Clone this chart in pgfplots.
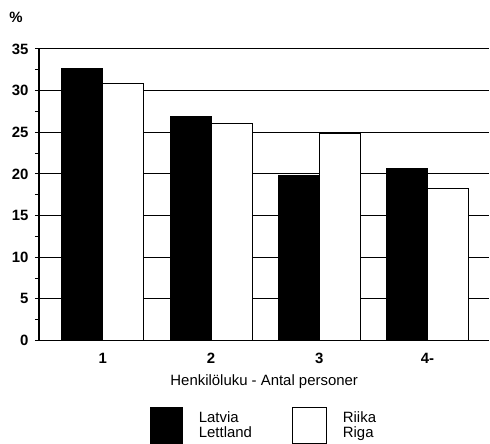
\documentclass[border=0pt]{standalone}
\usepackage{pgfplots}
\pgfplotsset{compat=1.18}
\usepackage{fontspec}
\setmainfont{Liberation Sans}
\begin{document}
\begin{tikzpicture}
\begin{axis}[
  at={(0,0)}, anchor=south west,
  scale only axis, width=451bp, height=292bp,
  xmin=0.409, xmax=4.573, ymin=0, ymax=35,
  axis x line*=bottom, axis y line*=left,
  axis line style={black, line width=1.2bp},
  ytick={0,5,...,35}, minor ytick={2.5,7.5,...,32.5},
  ymajorgrids, grid style={black, line width=0.9bp},
  tick align=outside, major tick length=4bp, minor tick length=4bp,
  tick style={black, line width=0.9bp},
  xtick={1,2,3,4}, xticklabels={1,2,3,4-},
  xtick style={draw=none},
  /pgf/number format/assume math mode=true,
  yticklabel style={font=\bfseries\fontsize{15}{17}\selectfont, xshift=-3bp},
  xticklabel style={font=\bfseries\fontsize{15}{17}\selectfont, yshift=-5bp},
  xlabel={Henkilöluku - Antal personer},
  xlabel style={font=\fontsize{15}{17}\selectfont, at={(axis description cs:0.5,0)}, anchor=center, yshift=-41bp},
  ybar=0pt, bar width=41bp,
  legend columns=2,
  legend style={at={(axis description cs:0.246,0)}, anchor=north west, yshift=-66bp,
    draw=none, inner sep=0pt, font=\fontsize{15}{15}\selectfont,
    cells={align=left, anchor=west},
    /tikz/every odd column/.append style={column sep=14bp},
    /tikz/every even column/.append style={column sep=38bp}},
]
\addplot[fill=black, draw=black, line width=1bp,
  legend image code/.code={\draw[fill=black,draw=black,line width=1bp] (0bp,-18bp) rectangle (32bp,18bp);}]
  coordinates {(1,32.6) (2,26.9) (3,19.8) (4,20.7)};
\addplot[fill=white, draw=black, line width=1bp,
  legend image code/.code={\draw[fill=white,draw=black,line width=1bp] (0bp,-18bp) rectangle (34bp,18bp);}]
  coordinates {(1,30.9) (2,26.1) (3,24.8) (4,18.2)};
\legend{Latvia\\Lettland, Riika\\Riga}
\end{axis}
\node[font=\bfseries\fontsize{15}{17}\selectfont] at (-23bp,324bp) {\%};
\path (-39bp,-103bp) rectangle (451bp,341bp);
\end{tikzpicture}
\end{document}
